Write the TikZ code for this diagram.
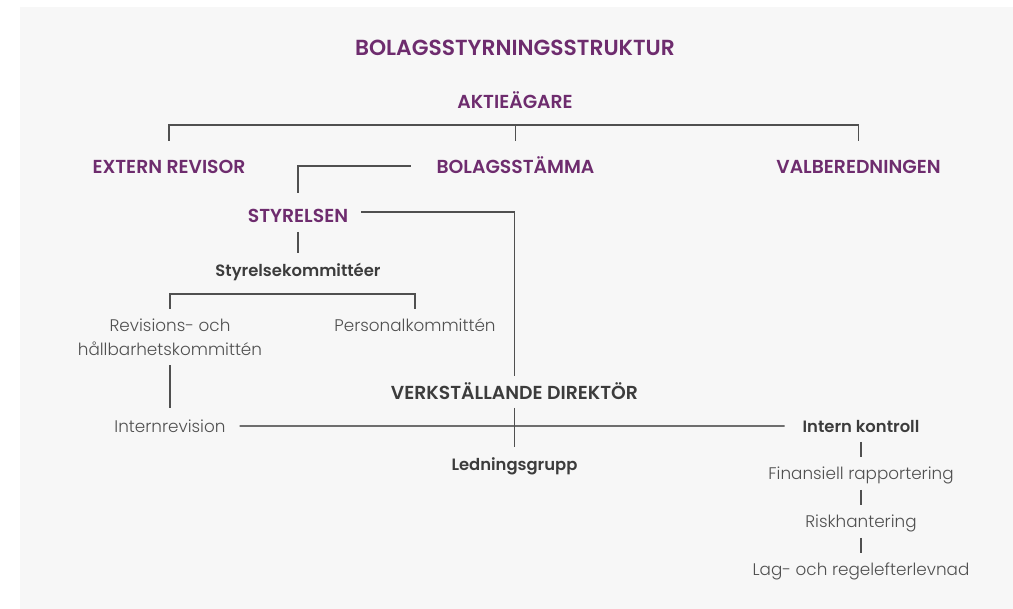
\documentclass[tikz,border=0pt]{standalone}
\usepackage{fontspec}
\setmainfont{Poppins}[UprightFont=* Light, BoldFont=* SemiBold]
\usetikzlibrary{calc}
\usepackage{xcolor}
\definecolor{plum}{HTML}{6E2C6E}
\definecolor{ink}{HTML}{3C3C3C}
\definecolor{soft}{HTML}{505050}
\definecolor{panel}{HTML}{F7F7F7}
\definecolor{rulegrey}{HTML}{505050}

\begin{document}
\begin{tikzpicture}[x=1pt,y=-1pt]
		\tikzstyle{every node}=[inner sep=0pt, outer sep=0pt, anchor=base]
		\tikzstyle{title}=[text=plum, font=\bfseries\fontsize{21.8}{26}\selectfont, text height=15.3pt, text depth=5.5pt]
		\tikzstyle{head}=[text=plum, font=\bfseries\fontsize{18.8}{22}\selectfont, text height=13.2pt, text depth=4.7pt]
		\tikzstyle{chief}=[head, text=ink]
		\tikzstyle{sub}=[text=ink, font=\bfseries\fontsize{16.4}{20}\selectfont, text height=11.5pt, text depth=4.1pt]
		\tikzstyle{thin}=[text=soft, font=\fontsize{16.8}{20}\selectfont, text height=11.8pt, text depth=4.2pt]
		\tikzstyle{link}=[draw=rulegrey, line width=1.2pt]
		\tikzstyle{mainlink}=[draw=black!85, line width=1.3pt]
		\useasboundingbox (0,0) rectangle (1013,609);
		\fill[panel] (20,7) rectangle (1013,609);
		\node[title] (title) at (515,56) {BOLAGSSTYRNINGSSTRUKTUR};
		\node[head] (aktie) at (515,109) {AKTIEÄGARE};
		\node[head] (extern) at (169,174) {EXTERN REVISOR};
		\node[head] (bolag) at (515.5,174) {BOLAGSSTÄMMA};
		\node[head] (valb) at (858.5,174) {VALBEREDNINGEN};
		\node[head] (styr) at (298,223) {STYRELSEN};
		\node[sub] (comm) at (298,277) {Styrelsekommittéer};
		\node[thin, text height={}, text depth={}, anchor=north, align=center, font=\fontsize{16.8}{23.5}\selectfont] (rev) at (170,319) {Revisions- och\\hållbarhetskommittén};
		\node[thin] (pers) at (415,332) {Personalkommittén};
		\node[chief] (vd) at (514.5,400) {VERKSTÄLLANDE DIREKTÖR};
		\node[thin] (intrev) at (170,432.5) {Internrevision};
		\node[sub] (intk) at (861,432.5) {Intern kontroll};
		\node[sub] (led) at (514.5,471) {Ledningsgrupp};
		\node[thin] (fin) at (861,480) {Finansiell rapportering};
		\node[thin] (risk) at (861,528) {Riskhantering};
		\node[thin] (lag) at (861,576) {Lag- och regelefterlevnad};
		\draw[link] ([yshift=19.8pt]extern.north) |- ([yshift=35.8pt]bolag.north) -| ([yshift=19.8pt]valb.north);
		\draw[link] ([yshift=19.8pt]bolag.north) -- ([yshift=35.8pt]bolag.north);
		\draw[link] ([shift={(-26pt,3.75pt)}]bolag.west) -| ([yshift=16.8pt]styr.north);
		\draw[link] ([shift={(13pt,6.75pt)}]styr.east) -| ([yshift=10.8pt]vd.north);
		\draw[link] ([yshift=-4.3pt]styr.south) -- ([yshift=12.5pt]comm.north);
		\draw[link] ([yshift=10pt]rev.north) |- ([yshift=-12.9pt]comm.south) -| ([yshift=11.2pt]pers.north);
		\draw[link] ([yshift=-10pt]rev.south) -- ([yshift=12.7pt]intrev.north);
		\draw[mainlink] ([shift={(14pt,2.7pt)}]intrev.east) -- ([shift={(-18pt,2.7pt)}]intk.west);
		\draw[link] ([yshift=-3.3pt]vd.south) -- ([yshift=12.5pt]led.north);
		\draw[link] ([yshift=-5.4pt]intk.south) -- ([yshift=11.2pt]fin.north);
		\draw[link] ([yshift=-5.8pt]fin.south) -- ([yshift=11.2pt]risk.north);
		\draw[link] ([yshift=-5.8pt]risk.south) -- ([yshift=11.2pt]lag.north);
	\end{tikzpicture}
\end{document}
